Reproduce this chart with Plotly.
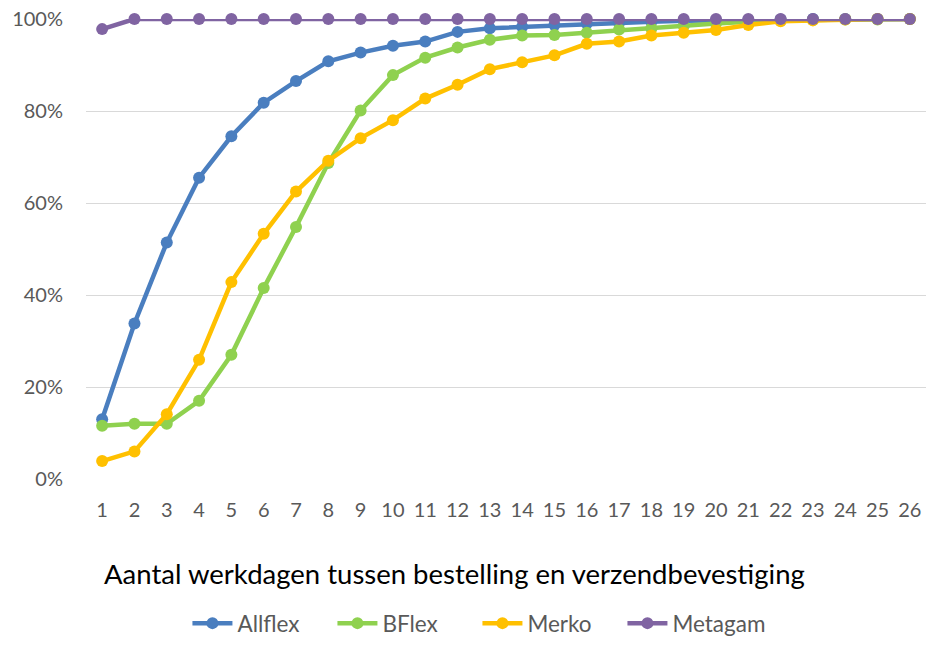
import plotly.graph_objects as go

days = list(range(1, 27))
allflex = [0.13, 0.338, 0.514, 0.655, 0.745, 0.818, 0.865, 0.908, 0.927, 0.942, 0.951, 0.972, 0.980, 0.983, 0.987, 0.990, 0.992, 0.994, 0.996, 0.997, 0.998, 0.999, 1.0, 1.0, 1.0, 1.0]
bflex = [0.116, 0.120, 0.120, 0.170, 0.270, 0.415, 0.548, 0.687, 0.801, 0.878, 0.916, 0.938, 0.955, 0.964, 0.965, 0.970, 0.977, 0.980, 0.985, 0.990, 0.994, 0.997, 0.998, 0.999, 0.999, 1.0]
merko = [0.039, 0.060, 0.141, 0.259, 0.428, 0.533, 0.625, 0.692, 0.741, 0.780, 0.827, 0.857, 0.891, 0.906, 0.921, 0.946, 0.951, 0.964, 0.970, 0.976, 0.987, 0.995, 0.997, 0.999, 1.0, 1.0]
metagam = [0.978] + [1.0] * 25

series = [
    ("Allflex", allflex, "#4a7ebf"),
    ("BFlex", bflex, "#8fd14f"),
    ("Merko", merko, "#ffc000"),
    ("Metagam", metagam, "#8064a2"),
]

fig = go.Figure()
for name, vals, col in series:
    fig.add_trace(go.Scatter(
        x=days, y=vals, name=name, mode="lines+markers",
        line=dict(color=col, width=4.5),
        marker=dict(color=col, size=12),
        cliponaxis=False,
    ))

fig.update_layout(
    width=926, height=645,
    margin=dict(l=86, r=0, t=19, b=159),
    paper_bgcolor="white", plot_bgcolor="white",
    font=dict(family="Lato, Carlito, sans-serif", color="#595959", size=20),
    showlegend=True,
    legend=dict(orientation="h", x=0.466, xanchor="center", y=-0.3148, yanchor="middle",
                font=dict(size=22.5, color="#595959"), itemwidth=40, tracegroupgap=0,
                entrywidth=90, entrywidthmode="pixels"),
    xaxis=dict(
        type="linear", range=[0.5, 26.5], tickmode="array", tickvals=days,
        ticktext=[str(d) for d in days], showgrid=False, zeroline=False,
        showline=False, ticks="", ticklabelstandoff=17, automargin=False,
        ticklabeloverflow="allow",
    ),
    yaxis=dict(
        range=[0, 1], tickformat=".0%", dtick=0.2, showgrid=True,
        gridcolor="#d9d9d9", gridwidth=1.3, zeroline=False, showline=False,
        ticks="", ticklabelstandoff=22, automargin=False,
        ticklabeloverflow="allow",
    ),
    annotations=[dict(
        text="Aantal werkdagen tussen bestelling en verzendbevestiging",
        xref="paper", yref="paper", x=0.439, y=-0.205, xanchor="center", yanchor="middle",
        showarrow=False, font=dict(size=27.5, color="#000000"),
    )],
)

fig.write_html(
    "out.html",
    config={"displayModeBar": False},
    post_script="document.body.style.margin='0';document.body.style.overflow='hidden';",
)
